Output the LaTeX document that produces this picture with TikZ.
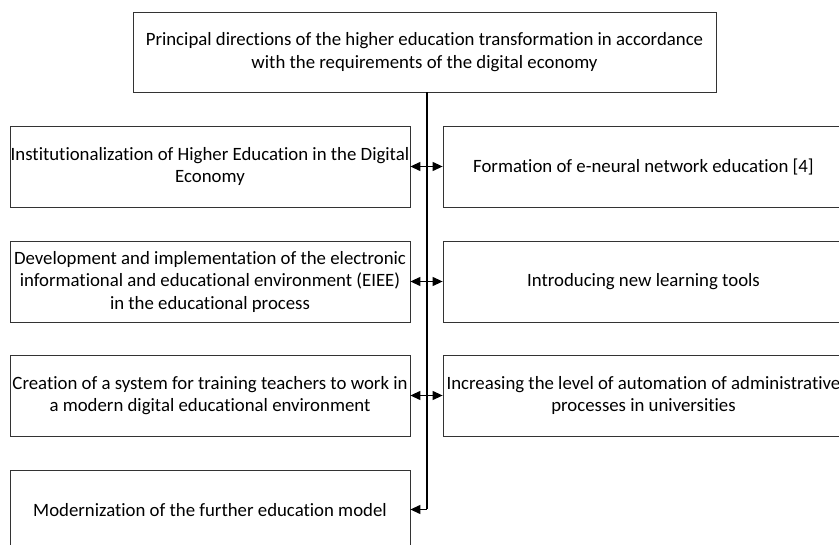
\documentclass[tikz,border=0pt]{standalone}
\usepackage{fontspec}
\setmainfont{Carlito}[RawFeature=-liga]
\usetikzlibrary{arrows.meta}
\begin{document}
\begin{tikzpicture}[x=1pt,y=-1pt,
  box/.style={draw=black!80, line width=0.8pt, align=center, inner sep=0pt,
    font=\fontsize{18.8}{22.5}\selectfont},
  lbox/.style={box, minimum width=400pt, minimum height=81pt},
  rbox/.style={box, minimum width=401pt, minimum height=81pt},
  link/.style={line width=1.2pt, {Triangle[length=10pt,width=9pt]}-{Triangle[length=10pt,width=9pt]}},
  trunk/.style={line width=2pt}]
\useasboundingbox[fill=white] (0,0) rectangle (839,545);
\node[box, minimum width=583pt, minimum height=80pt] (top) at (424.5,52)
  {Principal directions of the higher education transformation in accordance\\with the requirements of the digital economy};
\node[lbox] (l1) at (210,166.5) {Institutionalization of Higher Education in the Digital\\Economy};
\node[lbox] (l2) at (210,281.5) {Development and implementation of the electronic\\informational and educational environment (EIEE)\\in the educational process};
\node[lbox] (l3) at (210,395.5) {Creation of a system for training teachers to work in\\a modern digital educational environment};
\node[lbox, minimum height=80pt] (l4) at (210,510) {Modernization of the further education model};
\node[rbox] (r1) at (643.5,166.5) {Formation of e-neural network education [4]};
\node[rbox] (r2) at (643.5,281.5) {Introducing new learning tools};
\node[rbox] (r3) at (643.5,395.5) {Increasing the level of automation of administrative\\processes in universities};
\coordinate (bend) at (427,509.5);
\draw[trunk] (top.south -| bend) -- (bend);
\draw[line width=1.2pt, -{Triangle[length=10pt,width=9pt]}] (bend) -- (bend -| l4.east);
\draw[link] (l1.east) -- (r1.west);
\draw[link] (l2.east) -- (r2.west);
\draw[link] (l3.east) -- (r3.west);
\end{tikzpicture}
\end{document}
